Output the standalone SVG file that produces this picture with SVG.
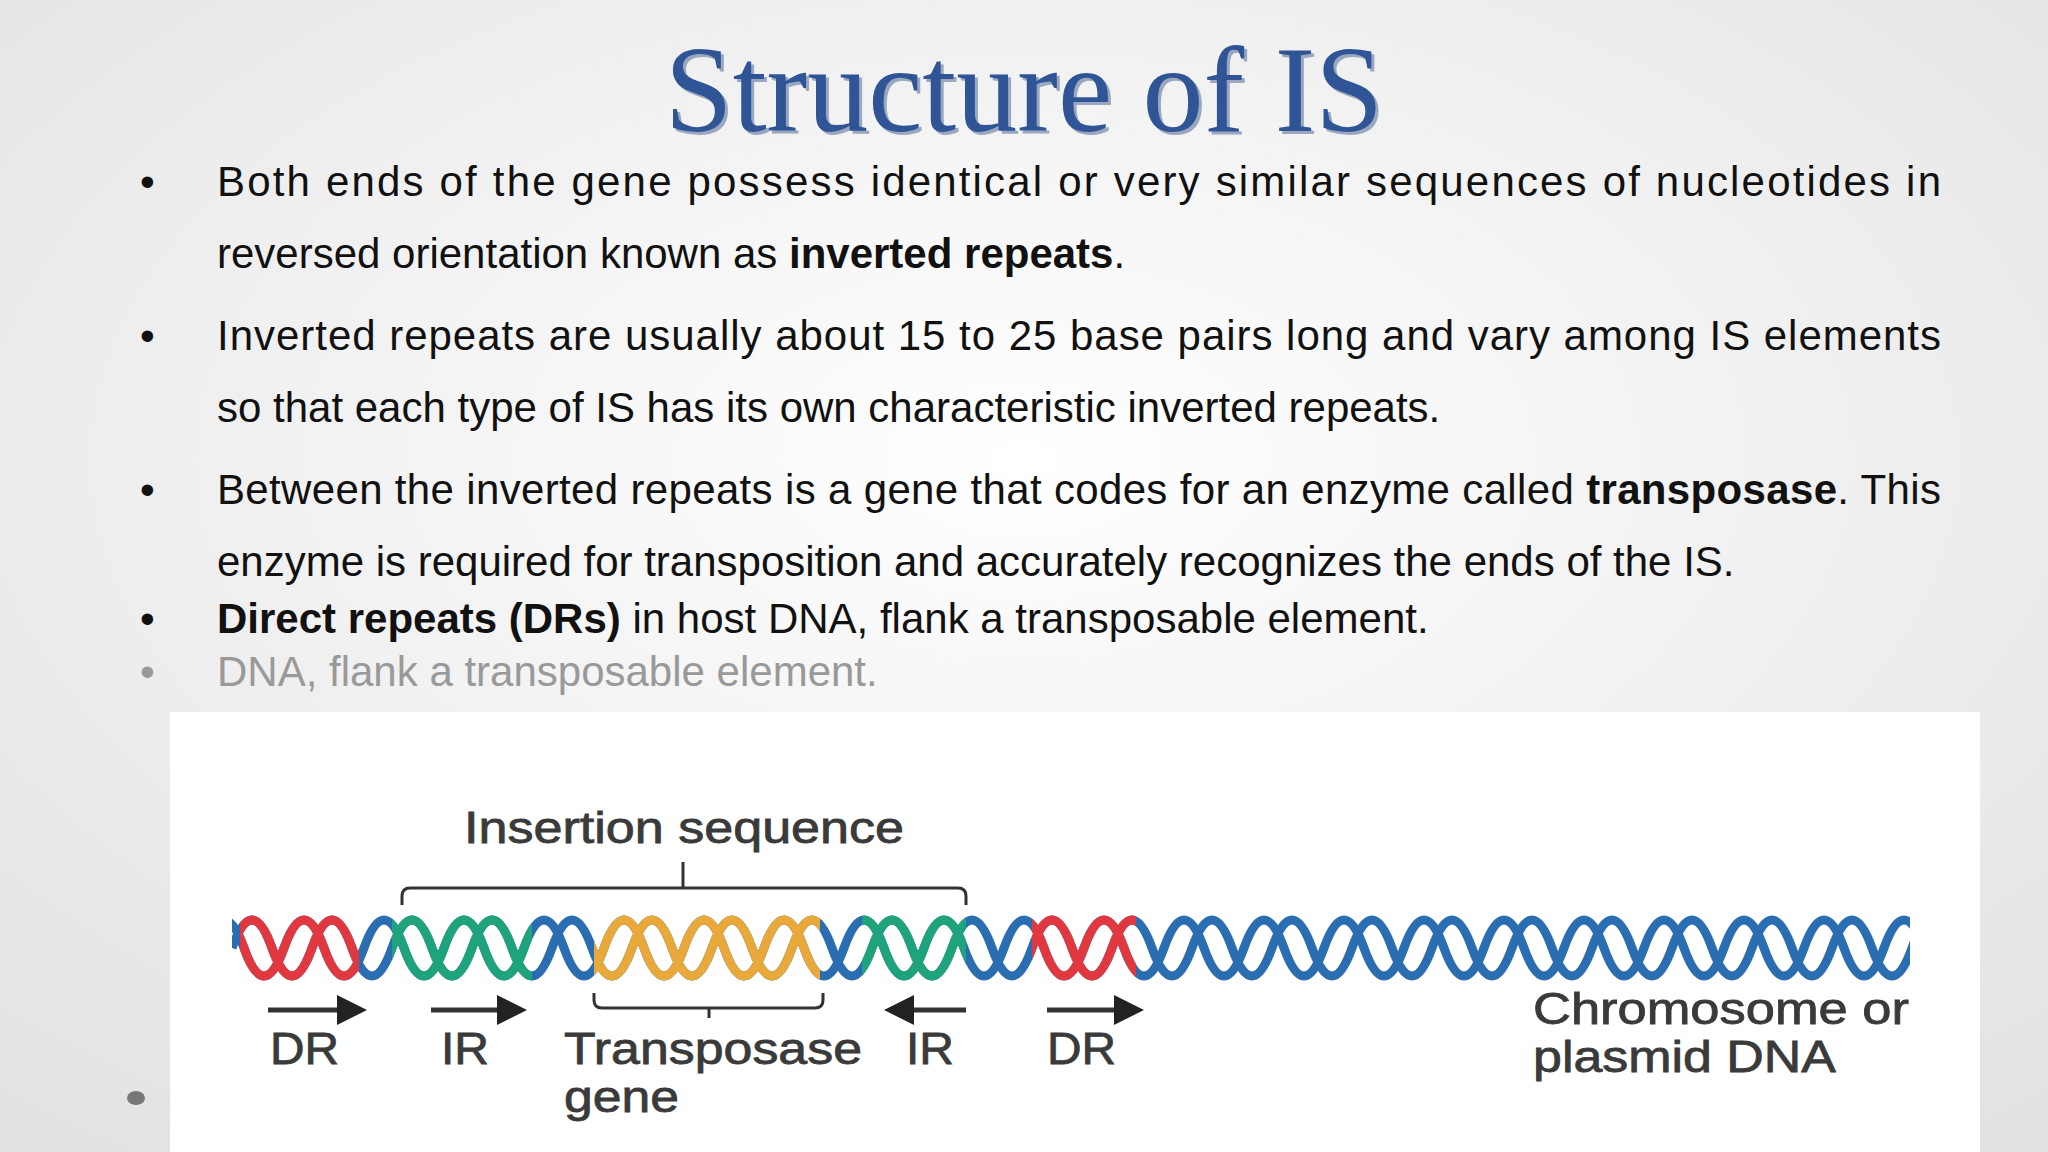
<svg xmlns="http://www.w3.org/2000/svg" width="2048" height="1152" viewBox="0 0 2048 1152">
<style>
.b{font-family:"Liberation Sans",Arial,sans-serif;font-size:42px;fill:#111}
.g{fill:#999}
.d{font-family:"Liberation Sans",Arial,sans-serif;font-size:44px;fill:#3a3a3a;stroke:#3a3a3a;stroke-width:0.8}
.br{fill:none;stroke:#333;stroke-width:3}
.ar{stroke:#333;stroke-width:5;marker-end:url(#ah)}
</style>
<defs>
<radialGradient id="bg" cx="50%" cy="40%" r="75%">
<stop offset="0" stop-color="#ffffff"/><stop offset="1" stop-color="#e2e2e2"/>
</radialGradient>
<marker id="ah" markerWidth="6" markerHeight="6" refX="3" refY="3" orient="auto" markerUnits="strokeWidth"><path d="M0,0L6,3L0,6z" fill="#222"/></marker>
<path id="s1" d="M232,948 q20,-56 40,0 t40,0 t40,0 t40,0 t40,0 t40,0 t40,0 t40,0 t40,0 t40,0 t40,0 t40,0 t40,0 t40,0 t40,0 t40,0 t40,0 t40,0 t40,0 t40,0 t40,0 t40,0 t40,0 t40,0 t40,0 t40,0 t40,0 t40,0 t40,0 t40,0 t40,0 t40,0 t40,0 t40,0 t40,0 t40,0 t40,0 t40,0 t40,0 t40,0 t40,0 t40,0 t40,0"/>
<path id="s2" d="M204,948 q20,-56 40,0 t40,0 t40,0 t40,0 t40,0 t40,0 t40,0 t40,0 t40,0 t40,0 t40,0 t40,0 t40,0 t40,0 t40,0 t40,0 t40,0 t40,0 t40,0 t40,0 t40,0 t40,0 t40,0 t40,0 t40,0 t40,0 t40,0 t40,0 t40,0 t40,0 t40,0 t40,0 t40,0 t40,0 t40,0 t40,0 t40,0 t40,0 t40,0 t40,0 t40,0 t40,0 t40,0 t40,0"/>
<clipPath id="all"><rect x="232" y="900" width="1678" height="100"/></clipPath>
<clipPath id="cr"><rect x="240" y="900" width="119" height="100"/><rect x="1032" y="900" width="104" height="100"/></clipPath>
<clipPath id="cg"><rect x="392" y="900" width="140" height="100"/><rect x="862" y="900" width="104" height="100"/></clipPath>
<clipPath id="co"><rect x="594" y="900" width="226" height="100"/></clipPath>
</defs>
<rect width="2048" height="1152" fill="url(#bg)"/>
<text x="1024" y="131" text-anchor="middle" font-family="Liberation Serif,serif" font-size="122" fill="#9aa7bf" transform="translate(3,3)">Structure of IS</text>
<text x="1024" y="131" text-anchor="middle" font-family="Liberation Serif,serif" font-size="122" fill="#2f5597">Structure of IS</text>
<g id="bullets">
<text class="b" x="140" y="196">•</text>
<text class="b" x="217" y="196" textLength="1724" lengthAdjust="spacing">Both ends of the gene possess identical or very similar sequences of nucleotides in</text>
<text class="b" x="217" y="268">reversed orientation known as <tspan font-weight="bold">inverted repeats</tspan>.</text>
<text class="b" x="140" y="350">•</text>
<text class="b" x="217" y="350" textLength="1724" lengthAdjust="spacing">Inverted repeats are usually about 15 to 25 base pairs long and vary among IS elements</text>
<text class="b" x="217" y="422">so that each type of IS has its own characteristic inverted repeats.</text>
<text class="b" x="140" y="504">•</text>
<text class="b" x="217" y="504" textLength="1724" lengthAdjust="spacing">Between the inverted repeats is a gene that codes for an enzyme called <tspan font-weight="bold">transposase</tspan>. This</text>
<text class="b" x="217" y="576">enzyme is required for transposition and accurately recognizes the ends of the IS.</text>
<text class="b" x="140" y="633">•</text>
<text class="b" x="217" y="633"><tspan font-weight="bold">Direct repeats (DRs)</tspan> in host DNA, flank a transposable element.</text>
<text class="b g" x="140" y="686">•</text>
<text class="b g" x="217" y="686">DNA, flank a transposable element.</text>
</g>
<rect x="170" y="712" width="1810" height="440" fill="#fff"/>
<ellipse cx="136" cy="1098" rx="9" ry="7" fill="#777"/>
<g id="helix">
<g clip-path="url(#all)" stroke-width="9" fill="none">
<g stroke="#2a6db0"><use href="#s1"/><use href="#s2"/></g>
<g clip-path="url(#cr)" stroke="#e0383e"><use href="#s1"/><use href="#s2"/></g>
<g clip-path="url(#cg)" stroke="#1fa37c"><use href="#s1"/><use href="#s2"/></g>
<g clip-path="url(#co)" stroke="#e8a93a"><use href="#s1"/><use href="#s2"/></g>
</g>
</g>
<g id="connectors">
<path class="br" d="M402,905 V896 Q402,888 410,888 H958 Q966,888 966,896 V905 M683,888 V862"/>
<path class="br" d="M594,993 V1000 Q594,1008 602,1008 H815 Q823,1008 823,1000 V993 M709,1008 V1018"/>
<line class="ar" x1="268" y1="1010" x2="352" y2="1010"/>
<line class="ar" x1="431" y1="1010" x2="512" y2="1010"/>
<line class="ar" x1="966" y1="1010" x2="899" y2="1010"/>
<line class="ar" x1="1047" y1="1010" x2="1129" y2="1010"/>
</g>
<g id="labels">
<text class="d" x="464" y="843" textLength="440" lengthAdjust="spacingAndGlyphs">Insertion sequence</text>
<text class="d" x="270" y="1064" textLength="69" lengthAdjust="spacingAndGlyphs">DR</text>
<text class="d" x="441" y="1064" textLength="48" lengthAdjust="spacingAndGlyphs">IR</text>
<text class="d" x="564" y="1064" textLength="298" lengthAdjust="spacingAndGlyphs">Transposase</text>
<text class="d" x="564" y="1112" textLength="115" lengthAdjust="spacingAndGlyphs">gene</text>
<text class="d" x="906" y="1064" textLength="48" lengthAdjust="spacingAndGlyphs">IR</text>
<text class="d" x="1047" y="1064" textLength="69" lengthAdjust="spacingAndGlyphs">DR</text>
<text class="d" x="1533" y="1024" textLength="376" lengthAdjust="spacingAndGlyphs">Chromosome or</text>
<text class="d" x="1533" y="1072" textLength="303" lengthAdjust="spacingAndGlyphs">plasmid DNA</text>
</g>
</svg>
